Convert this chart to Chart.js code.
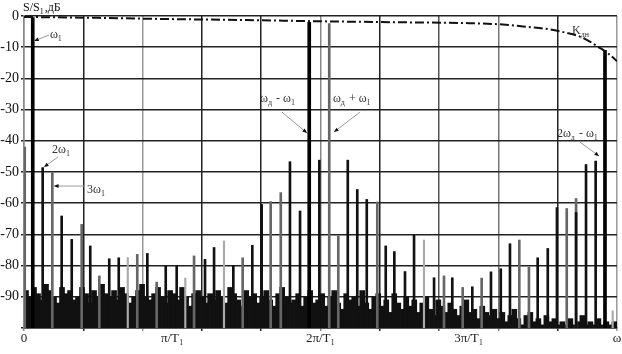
<!DOCTYPE html>
<html>
<head>
<meta charset="utf-8">
<script src="https://cdn.jsdelivr.net/npm/chart.js@4.4.0/dist/chart.umd.min.js"></script>
<style>
  body { margin: 0; background: #fff; }
</style>
</head>
<body>
<canvas id="spectrum" width="622" height="354"></canvas>
<script>
// frequency in units of pi/T1, level in dB (S/S1)
var toneX = [0.059, 1.924, 3.919];
var toneDb = [-0.5, -2.0, -11];

var darkX = [0.126, 0.254, 0.322, 0.447, 0.575, 0.639, 0.832, 0.956, 1.030, 1.221, 1.282, 1.412, 1.540, 1.603, 1.794, 1.862, 1.992, 2.184, 2.248, 2.312, 2.440, 2.498, 2.570, 2.631, 2.766, 2.889, 3.024, 3.150, 3.216, 3.278, 3.465, 3.533, 3.595, 3.724, 3.791, 3.856];
var darkDb = [-48.6, -64.1, -71.6, -73.7, -77.8, -77.5, -76.1, -80.1, -80.1, -78, -74.2, -80, -73.5, -60.4, -46.7, -62.5, -46.2, -46.2, -55.6, -58.8, -73.7, -75.5, -81.9, -70.3, -83.9, -83.9, -86.8, -82, -81, -73, -77.5, -74.5, -61.4, -63, -47.6, -46.5];

var grayX = [0.005, 0.191, 0.389, 0.508, 0.764, 0.895, 1.147, 1.475, 1.664, 1.732, 2.059, 2.120, 2.383, 2.833, 2.959, 3.087, 3.341, 3.406, 3.661, 3.724];
var grayDb = [-42, -50.2, -66.8, -83.3, -76.4, -85.3, -76.9, -77.5, -59.5, -56.6, -2.4, -70.5, -59.6, -83.3, -87, -84, -71.8, -80.5, -61.7, -58.5];

var lightX = [0.700, 1.088, 1.349, 2.698, 3.971];
var lightDb = [-77.4, -84, -72.1, -71.8, -94.5];

// noise floor, one value per bin
var noiseStart = 0.0135, noiseStep = 0.027;
var noiseDb = [
  -88, -90, -87, -89, -91, -86, -88, -90, -92, -87, -89, -88, -91, -90, -87, -89, -92, -88, -90, -86, -89,
  -90, -88, -91, -87, -89, -92, -90, -88, -86, -90, -91, -89, -87, -90, -92, -88, -89, -91, -87, -90, -93, -89, -88, -90, -92,
  -89, -91, -88, -90, -92, -87, -89, -91, -93, -88, -90, -89, -92, -90, -88, -91, -93, -89, -87, -90, -92, -91, -89, -93, -90, -88, -92,
  -91, -89, -93, -90, -88, -92, -94, -89, -91, -90, -93, -88, -92, -94, -90, -89, -93, -91, -95, -89, -92, -94, -90,
  -93, -91, -95, -92, -90, -94, -96, -91, -93, -95, -92, -94, -96, -93, -91, -95, -94, -97, -93, -95,
  -96, -94, -97, -95, -98, -96, -94, -97, -99, -96, -95, -98, -97, -99, -96, -98, -97, -99,
  -98, -99, -97, -99, -98, -96, -99, -98, -99, -97, -99, -98, -99, -98
];

// K_дн curve
var kX = [0, 0.5, 1.0, 1.5, 2.0, 2.5, 3.0, 3.25, 3.4, 3.55, 3.65, 3.75, 3.82, 3.87, 3.94, 4.0];
var kDb = [-0.3, -0.6, -1.0, -1.3, -1.7, -2.0, -2.3, -2.8, -3.5, -4.3, -5.3, -6.6, -8.3, -9.8, -12, -14.5];

var xGrid = [0, 0.4, 0.8, 1.2, 1.6, 2.0, 2.4, 2.8, 3.2, 3.6, 4.0];
var xLabelAt = [0, 1, 2, 3, 4];
var xLabels = ['0', 'π/T₁', '2π/T₁', '3π/T₁', 'ω'];
var xGridColor = ['#888', '#222', '#999', '#222', '#222', '#888', '#222', '#555', '#777', '#222', '#999'];

function bars(xs, ys) {
  return xs.map(function (x, i) { return { x: x, y: [-100, ys[i]] }; });
}

var noisePts = noiseDb.map(function (v, i) { return { x: noiseStart + i * noiseStep, y: [-100, v] }; });
var kPts = kX.map(function (x, i) { return { x: x, y: kDb[i] }; });

var serif = "'Liberation Serif', 'DejaVu Serif', serif";

var notes = [
  { x: 0.175, y: -7.0, parts: [['ω', 0], ['1', 1]] },
  { x: 0.189, y: -43.9, parts: [['2ω', 0], ['1', 1]] },
  { x: 0.425, y: -56.7, parts: [['3ω', 0], ['1', 1]] },
  { x: 1.592, y: -27.6, parts: [['ω', 0], ['д', 1], [' - ω', 0], ['1', 1]] },
  { x: 2.084, y: -27.6, parts: [['ω', 0], ['д', 1], [' + ω', 0], ['1', 1]] },
  { x: 3.697, y: -5.8, parts: [['K', 0], ['дн', 1]] },
  { x: 3.595, y: -38.8, parts: [['2ω', 0], ['д', 1], [' - ω', 0], ['1', 1]] }
];
var arrows = [
  [0.169, -6.1, 0.068, -8.0],
  [0.229, -45.2, 0.135, -48.4],
  [0.405, -54.5, 0.202, -54.5],
  [1.740, -30.8, 1.909, -37.5],
  [2.266, -30.8, 2.091, -37.2],
  [3.750, -40.4, 3.879, -44.9]
];

function drawParts(ctx, px, py, parts, size, color) {
  var cx = px;
  ctx.fillStyle = color;
  ctx.textBaseline = 'alphabetic';
  ctx.textAlign = 'left';
  parts.forEach(function (p) {
    ctx.font = (p[1] ? Math.round(size * 0.7) : size) + 'px ' + serif;
    ctx.fillText(p[0], cx, py + (p[1] ? 3 : 0));
    cx += ctx.measureText(p[0]).width + (p[1] ? 1 : 0);
  });
}

var notesPlugin = {
  id: 'notes',
  afterDraw: function (chart) {
    var ctx = chart.ctx, xs = chart.scales.x, ys = chart.scales.y, a = chart.chartArea;
    ctx.save();
    drawParts(ctx, a.left - 1, a.top - 5, [['S/S', 0], ['1', 1], [',дБ', 0]], 12, '#111');
    notes.forEach(function (n) {
      drawParts(ctx, xs.getPixelForValue(n.x), ys.getPixelForValue(n.y), n.parts, 12, '#333');
    });
    arrows.forEach(function (r) {
      var x1 = xs.getPixelForValue(r[0]), y1 = ys.getPixelForValue(r[1]);
      var x2 = xs.getPixelForValue(r[2]), y2 = ys.getPixelForValue(r[3]);
      ctx.strokeStyle = '#999';
      ctx.lineWidth = 1;
      ctx.beginPath();
      ctx.moveTo(x1, y1);
      ctx.lineTo(x2, y2);
      ctx.stroke();
      var ang = Math.atan2(y2 - y1, x2 - x1);
      ctx.fillStyle = '#111';
      ctx.beginPath();
      ctx.moveTo(x2, y2);
      ctx.lineTo(x2 - 5 * Math.cos(ang - 0.4), y2 - 5 * Math.sin(ang - 0.4));
      ctx.lineTo(x2 - 5 * Math.cos(ang + 0.4), y2 - 5 * Math.sin(ang + 0.4));
      ctx.closePath();
      ctx.fill();
    });
    ctx.restore();
  }
};

Chart.defaults.font.family = serif;
Chart.defaults.color = '#111';

new Chart(document.getElementById('spectrum'), {
  type: 'bar',
  data: {
    datasets: [
      { type: 'line', data: kPts, borderColor: '#111', borderWidth: 2, borderDash: [9, 3, 2, 3], pointRadius: 0, tension: 0.4, cubicInterpolationMode: 'monotone', fill: false },
      { data: bars(toneX, toneDb), backgroundColor: '#000', barThickness: 3, grouped: false },
      { data: bars(darkX, darkDb), backgroundColor: '#111', barThickness: 2, grouped: false },
      { data: bars(grayX, grayDb), backgroundColor: '#666', barThickness: 2, grouped: false },
      { data: bars(lightX, lightDb), backgroundColor: '#aaa', barThickness: 1.5, grouped: false },
      { data: noisePts, backgroundColor: '#111', barThickness: 5, grouped: false }
    ]
  },
  options: {
    responsive: false,
    animation: false,
    layout: { padding: { top: 16, right: 5, left: 0, bottom: 0 } },
    plugins: { legend: { display: false }, tooltip: { enabled: false } },
    scales: {
      x: {
        type: 'linear',
        min: 0,
        max: 4,
        offset: false,
        afterBuildTicks: function (scale) {
          var t = xGrid.concat([1, 3]).sort(function (a, b) { return a - b; });
          scale.ticks = t.map(function (v) { return { value: v }; });
        },
        afterFit: function (scale) { scale.height = 26; },
        grid: {
          offset: false,
          tickLength: 3,
          lineWidth: 1.5,
          color: function (c) {
            var i = xGrid.indexOf(c.tick.value);
            return i < 0 ? 'rgba(0,0,0,0)' : xGridColor[i];
          }
        },
        border: { color: '#222', width: 1.6 },
        ticks: {
          autoSkip: false,
          maxRotation: 0,
          padding: 0,
          font: { size: 13 },
          color: '#222',
          callback: function (v) {
            var i = xLabelAt.indexOf(v);
            return i < 0 ? '' : xLabels[i];
          }
        }
      },
      y: {
        min: -100,
        max: 0,
        afterFit: function (scale) { scale.width = 24; },
        grid: { color: '#222', lineWidth: 1.6, tickLength: 3 },
        border: { color: '#888', width: 1.5 },
        ticks: {
          stepSize: 10,
          padding: 2,
          font: { size: 14 },
          color: '#111',
          callback: function (v) { return v === -100 ? '' : String(v); }
        }
      }
    }
  },
  plugins: [notesPlugin]
});
</script>
</body>
</html>
